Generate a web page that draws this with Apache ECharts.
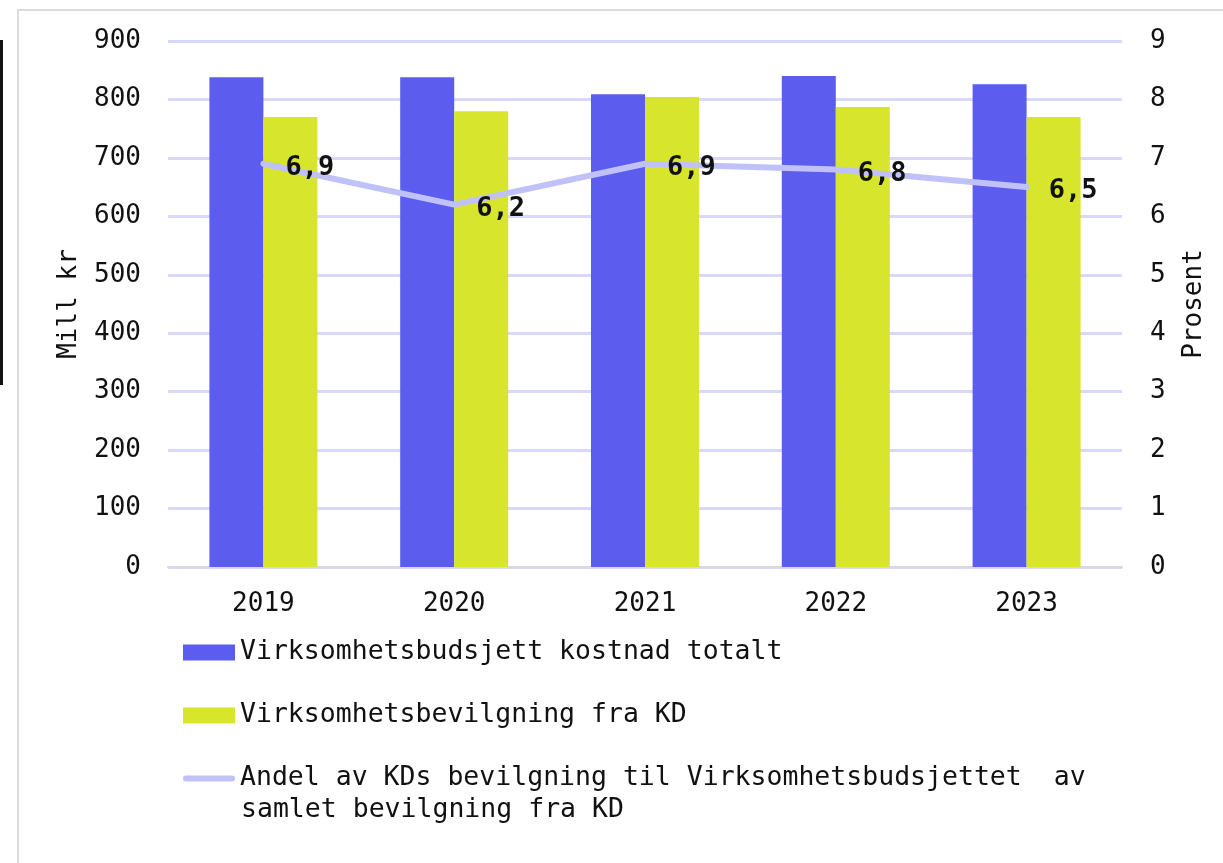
<!DOCTYPE html>
<html>
<head>
<meta charset="utf-8">
<script src="https://cdn.jsdelivr.net/npm/echarts@6/dist/echarts.min.js"></script>
<style>
    html, body { margin: 0; padding: 0; background: #fff; }
    #chartContainer { width: 1223px; height: 863px; }
</style>
</head>
<body>
<div id="chartContainer"></div>
<script>
// data
var years = ['2019', '2020', '2021', '2022', '2023'];
var budsjettTotalt = [838, 838, 809, 840, 826];
var bevilgningKD = [770, 780, 804, 787, 770];
var andelProsent = [6.9, 6.2, 6.9, 6.8, 6.5];

var nameBar1 = 'Virksomhetsbudsjett kostnad totalt';
var nameBar2 = 'Virksomhetsbevilgning fra KD';
var nameLine = 'Andel av KDs bevilgning til Virksomhetsbudsjettet  av samlet bevilgning fra KD';
var nameLineFirst = 'Andel av KDs bevilgning til Virksomhetsbudsjettet  av';
var nameLineSecond = 'samlet bevilgning fra KD';

var mono = '"DejaVu Sans Mono", "Liberation Mono", monospace';
var lineColor = '#c1c1fa';

var chartContainer = document.getElementById('chartContainer');
var chart = echarts.init(chartContainer, null, { renderer: 'canvas' });

var option = {
    animation: false,
    textStyle: { fontFamily: mono },
    grid: { left: 168, right: 101, top: 41, bottom: 296 },
    legend: {
        orient: 'vertical',
        left: 183,
        top: 637,
        padding: 0,
        itemWidth: 52,
        itemHeight: 16,
        itemGap: 32,
        data: [
            { name: nameBar1, icon: 'rect' },
            { name: nameBar2, icon: 'rect' },
            { name: nameLine, icon: 'path://M3,0 L49,0 A3,3 0 0 1 49,6 L3,6 A3,3 0 0 1 3,0 Z' }
        ],
        textStyle: { fontFamily: mono, fontSize: 26.5, lineHeight: 31, color: '#111' },
        formatter: function (name) {
            return name === nameLine ? nameLineFirst : name;
        }
    },
    graphic: [
        // outer frame
        { type: 'rect', z: -10, shape: { x: 18, y: 10, width: 1400, height: 1000 },
          style: { fill: 'none', stroke: '#dcdcdc', lineWidth: 2 } },
        // black bar at left edge
        { type: 'rect', shape: { x: 0, y: 40, width: 3, height: 345 },
          style: { fill: '#111' } },
        // second line of the line-series legend text
        { type: 'text', left: 241, top: 797,
          style: { text: nameLineSecond, font: '26.5px ' + mono, fill: '#111' } }
    ],
    xAxis: {
        type: 'category',
        data: years,
        axisLine: { lineStyle: { color: '#d9d9d9', width: 2 } },
        axisTick: { show: false },
        axisLabel: { margin: 24, fontSize: 26, color: '#111', fontFamily: mono }
    },
    yAxis: [
        {
            type: 'value',
            min: 0, max: 900, interval: 100,
            name: 'Mill kr',
            nameLocation: 'middle',
            nameGap: 86,
            nameTextStyle: { fontSize: 26, color: '#111', fontFamily: mono },
            axisLabel: { margin: 27, fontSize: 26, color: '#111', fontFamily: mono },
            splitLine: { lineStyle: { color: '#d8d8f8', width: 3 } }
        },
        {
            type: 'value',
            min: 0, max: 9, interval: 1,
            name: 'Prosent',
            nameLocation: 'middle',
            nameGap: 59,
            nameTextStyle: { fontSize: 26, color: '#111', fontFamily: mono },
            axisLabel: { margin: 28, fontSize: 26, color: '#111', fontFamily: mono },
            splitLine: { show: false }
        }
    ],
    series: [
        {
            name: nameBar1,
            type: 'bar',
            data: budsjettTotalt,
            barWidth: 54,
            barGap: '0%',
            itemStyle: { color: '#5c5cee' }
        },
        {
            name: nameBar2,
            type: 'bar',
            data: bevilgningKD,
            barWidth: 54,
            barGap: '0%',
            itemStyle: { color: '#d7e62d' }
        },
        {
            name: nameLine,
            type: 'line',
            yAxisIndex: 1,
            data: andelProsent,
            symbol: 'circle',
            symbolSize: 0.1,
            showSymbol: true,
            lineStyle: { color: lineColor, width: 6, cap: 'round', join: 'round' },
            itemStyle: { color: lineColor },
            label: {
                show: true,
                position: 'right',
                distance: 22,
                offset: [0, 4],
                fontSize: 27,
                fontWeight: 'bold',
                color: '#111',
                fontFamily: mono,
                formatter: function (p) {
                    return p.value.toFixed(1).replace('.', ',');
                }
            },
            z: 5
        }
    ]
};

chart.setOption(option);
window.addEventListener('resize', chart.resize);
</script>
</body>
</html>
